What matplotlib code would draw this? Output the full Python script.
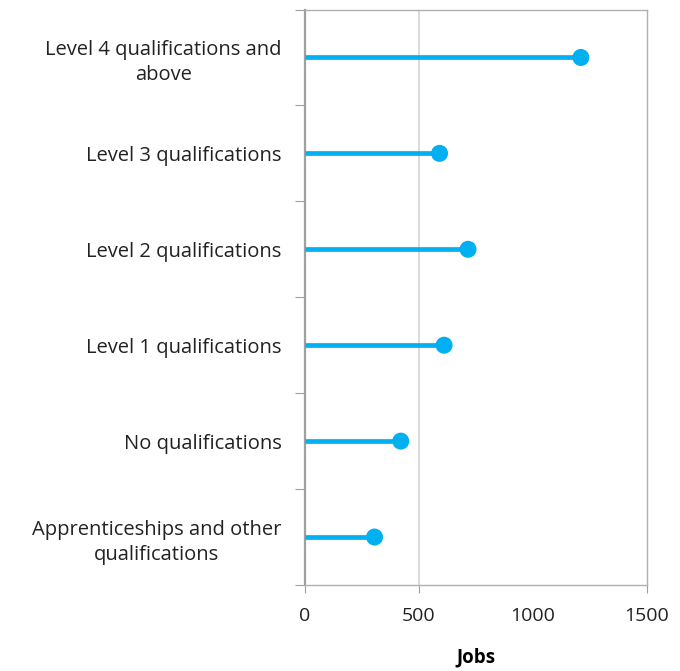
import matplotlib
matplotlib.use('Agg')
import matplotlib.pyplot as plt

# Categories (bottom to top) and job counts
categories = ['Apprenticeships and other\nqualifications', 'No qualifications',
              'Level 1 qualifications', 'Level 2 qualifications',
              'Level 3 qualifications', 'Level 4 qualifications and\nabove']
jobs = [305, 420, 610, 715, 590, 1210]
x_ticks = [0, 500, 1000, 1500]

plt.rcParams['font.family'] = ['Open Sans', 'DejaVu Sans']

fig = plt.figure(figsize=(6.8, 6.71), dpi=100)
ax = fig.add_axes([305 / 680, 1 - 585 / 671, 342 / 680, 575.5 / 671])

color = '#00B0F0'
ypos = list(range(len(categories)))
ax.hlines(ypos, 0, jobs, color=color, linewidth=3.4, zorder=3)
ax.scatter(jobs, ypos, s=150, color=color, zorder=4, edgecolors='none')

ax.set_xlim(0, 1500)
ax.set_ylim(-0.5, len(categories) - 0.5)

# gridline only at 500
ax.axvline(500, color='#d4d4d4', linewidth=1.2, zorder=1)

ax.set_xticks(x_ticks)
ax.set_xticklabels([str(v) for v in x_ticks], fontsize=14, color='#222222')
ax.xaxis.get_major_ticks()[2].tick1line.set_visible(False)
ax.tick_params(axis='x', length=6, color='#a0a0a0', pad=10)

ax.set_yticks([i - 0.5 for i in range(len(categories) + 1)])
ax.set_yticklabels([])
ax.set_yticks(ypos, minor=True)
ax.set_yticklabels(categories, minor=True, fontsize=14.5, color='#222222',
                   multialignment='center', linespacing=1.35)
ax.tick_params(axis='y', which='major', length=7, color='#a0a0a0')
ax.tick_params(axis='y', which='minor', length=0, pad=17)

for side in ['top', 'right', 'bottom']:
    ax.spines[side].set_color('#b0b0b0')
    ax.spines[side].set_linewidth(1.0)
ax.spines['left'].set_color('#a0a0a0')
ax.spines['left'].set_linewidth(1.6)

ax.set_xlabel('Jobs', fontsize=13.5, fontweight='bold', labelpad=16)

fig.savefig('out.png', dpi=100)
